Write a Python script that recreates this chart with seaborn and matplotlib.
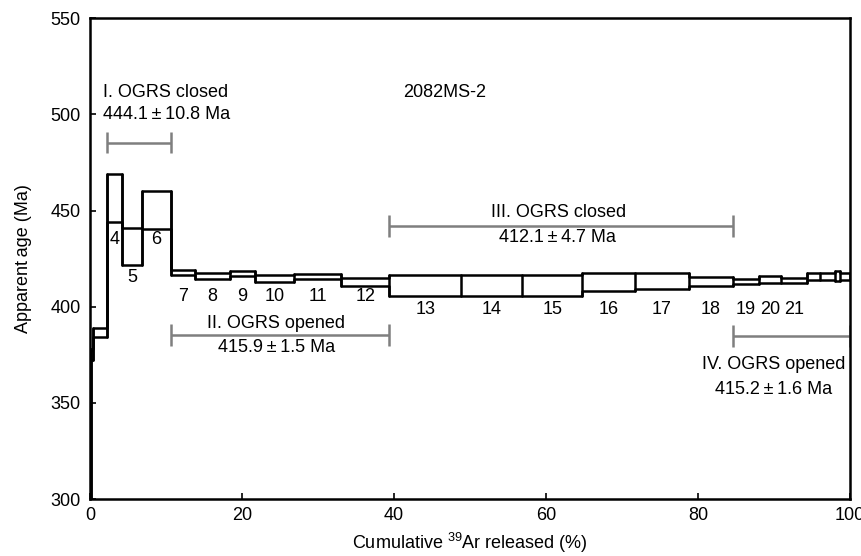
import numpy as np
import pandas as pd
import matplotlib
matplotlib.use("Agg")
import matplotlib.pyplot as plt
import seaborn as sns

# ---------------- data ----------------
cum39_bounds = [0, 0.07, 0.37, 2.13, 4.19, 6.75, 10.61, 13.77, 18.38, 21.67, 26.81,
                33.0, 39.37, 48.81, 56.89, 64.80, 71.74, 78.76, 84.56, 87.98, 90.97,
                94.31, 96.11, 97.99, 98.75, 100]
age_hi = [377.0, 378.0, 388.9, 469.3, 440.8, 460.1, 419.3, 417.6, 418.8, 416.7,
          417.0, 414.9, 416.3, 416.3, 416.3, 417.6, 417.6, 415.3, 414.6, 415.8,
          414.8, 417.6, 417.6, 418.4, 417.6]
age_lo = [250.0, 372.4, 384.5, 443.9, 421.5, 440.5, 416.3, 414.6, 415.8, 412.7,
          414.4, 410.9, 405.4, 405.4, 405.4, 408.3, 409.4, 410.6, 411.8, 412.3,
          412.3, 414.1, 414.1, 413.5, 414.1]
step_numbers = list(range(1, 26))
labelled_steps = list(range(4, 22))

# plateau segments
seg_names = ["I. OGRS closed", "II. OGRS opened", "III. OGRS closed", "IV. OGRS opened"]
seg_ages = ["444.1\u2009\u00b1\u200910.8 Ma", "415.9\u2009\u00b1\u20091.5 Ma",
            "412.1\u2009\u00b1\u20094.7 Ma", "415.2\u2009\u00b1\u20091.6 Ma"]
seg_start = [2.13, 10.61, 39.37, 84.56]
seg_end = [10.61, 39.37, 84.56, 100.0]

sample_name = "2082MS-2"
xticks = [0, 20, 40, 60, 80, 100]
yticks = [300, 350, 400, 450, 500, 550]

# ---------------- build outline table ----------------
rows = []
nstep = len(step_numbers)
# upper and lower step lines
for name, arr in (("upper", age_hi), ("lower", age_lo)):
    k = 0
    for i in range(nstep):
        for xx in (cum39_bounds[i], cum39_bounds[i + 1]):
            rows.append({"unit": name, "order": k, "x": xx, "y": arr[i]})
            k += 1
# vertical edges at every boundary, spanning adjacent steps
for j in range(nstep + 1):
    neigh = [i for i in (j - 1, j) if 0 <= i < nstep]
    lo = min(age_lo[i] for i in neigh)
    hi = max(age_hi[i] for i in neigh)
    rows.append({"unit": f"v{j}", "order": 0, "x": cum39_bounds[j], "y": lo})
    rows.append({"unit": f"v{j}", "order": 1, "x": cum39_bounds[j], "y": hi})
df = pd.DataFrame(rows)

# ---------------- plot ----------------
sns.set_style("ticks")
plt.rcParams["font.family"] = ["Liberation Sans", "DejaVu Sans"]
plt.rcParams["font.size"] = 13
plt.rcParams["text.color"] = "black"
plt.rcParams["axes.labelcolor"] = "black"
plt.rcParams["mathtext.fontset"] = "custom"
plt.rcParams["mathtext.rm"] = "Liberation Sans"
plt.rcParams["mathtext.it"] = "Liberation Sans:italic"
plt.rcParams["mathtext.bf"] = "Liberation Sans:bold"

fig = plt.figure(figsize=(8.61, 5.56), dpi=100)
ax = fig.add_axes([0.105, 0.1025, 0.882, 0.8645])

sns.lineplot(data=df, x="x", y="y", units="unit", estimator=None, sort=False,
             color="black", linewidth=1.8, ax=ax, legend=False)

ax.set_xlim(0, 100)
ax.set_ylim(300, 550)
ax.set_xticks(xticks)
ax.set_yticks(yticks)
ax.tick_params(axis="both", direction="in", length=4, width=1.2, labelsize=13,
               colors="black")
ax.tick_params(axis="y", pad=7)
ax.tick_params(axis="x", pad=6)
for s in ax.spines.values():
    s.set_linewidth(1.8)
    s.set_color("black")
    s.set_visible(True)

ax.set_xlabel("Cumulative $\\mathregular{^{39}}$Ar released (%)", fontsize=13, labelpad=5)
ax.set_ylabel("Apparent\u2009age (Ma)", fontsize=13, labelpad=13)

# step number labels
label_y = {}
for n in labelled_steps:
    if n in (4, 6):
        label_y[n] = 435.0
    elif n == 5:
        label_y[n] = 415.0
    elif n <= 12:
        label_y[n] = 405.4
    else:
        label_y[n] = 398.8
for n in labelled_steps:
    i = n - 1
    xc = 0.5 * (cum39_bounds[i] + cum39_bounds[i + 1])
    ax.text(xc, label_y[n], str(n), ha="center", va="center", fontsize=13)

# plateau brackets
gray = "#7f7f7f"
bracket_y = [485.4, 385.4, 442.0, 384.7]
for k in range(4):
    x0, x1 = seg_start[k], seg_end[k]
    yb = bracket_y[k]
    ax.plot([x0, x1], [yb, yb], color=gray, lw=1.8, solid_capstyle="butt")
    for xe in (x0, x1):
        ax.plot([xe, xe], [yb - 5.6, yb + 5.6], color=gray, lw=1.8,
                solid_capstyle="butt")

# segment texts
ax.text(1.6, 511.5, seg_names[0], ha="left", va="center", fontsize=13)
ax.text(1.6, 500.0, seg_ages[0], ha="left", va="center", fontsize=13)
ax.text(24.5, 391.1, seg_names[1], ha="center", va="center", fontsize=13)
ax.text(24.5, 379.0, seg_ages[1], ha="center", va="center", fontsize=13)
ax.text(61.7, 449.0, seg_names[2], ha="center", va="center", fontsize=13)
ax.text(61.5, 435.8, seg_ages[2], ha="center", va="center", fontsize=13)
ax.text(90.0, 369.8, seg_names[3], ha="center", va="center", fontsize=13)
ax.text(90.0, 357.1, seg_ages[3], ha="center", va="center", fontsize=13)

ax.text(46.6, 511.3, sample_name, ha="center", va="center", fontsize=13)

fig.savefig("out.png", dpi=100)
